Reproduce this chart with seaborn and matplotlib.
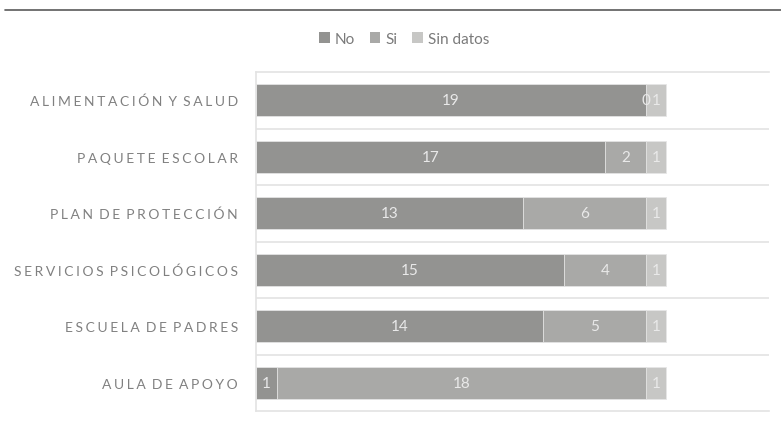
import matplotlib
matplotlib.use("Agg")
import matplotlib.pyplot as plt
from matplotlib.lines import Line2D
from matplotlib.patches import Patch
import numpy as np
import pandas as pd
import seaborn as sns

categories = [
    "ALIMENTACIÓN Y SALUD",
    "PAQUETE ESCOLAR",
    "PLAN DE PROTECCIÓN",
    "SERVICIOS PSICOLÓGICOS",
    "ESCUELA DE PADRES",
    "AULA DE APOYO",
]
no_vals = [19, 17, 13, 15, 14, 1]
si_vals = [0, 2, 6, 4, 5, 18]
sin_datos_vals = [1, 1, 1, 1, 1, 1]
series_names = ["No", "Si", "Sin datos"]
colors = ["#939391", "#a9a9a7", "#c7c7c5"]

sns.set_theme(style="white")
plt.rcParams["font.family"] = ["Lato", "DejaVu Sans"]

df = pd.DataFrame({"cat": categories, "No": no_vals, "Si": si_vals, "Sin datos": sin_datos_vals})
df["c1"] = df["No"]
df["c2"] = df["No"] + df["Si"]
df["c3"] = df["No"] + df["Si"] + df["Sin datos"]

fig = plt.figure(figsize=(7.81, 4.27), dpi=100)
ax = fig.add_axes([256 / 781, 1 - 412 / 427, (769 - 256) / 781, (412 - 73) / 427])

# stacked bars: draw cumulative totals back to front
for col, color in zip(["c3", "c2", "c1"], colors[::-1]):
    sns.barplot(data=df, x=col, y="cat", order=categories, color=color,
                width=0.57, saturation=1, edgecolor="#e6e6e6", linewidth=0.6, ax=ax)

# value labels centred on each segment
for i, cat in enumerate(categories):
    left = 0
    for name in series_names:
        v = df.loc[i, name]
        ax.text(left + v / 2, i, str(v), ha="center", va="center",
                color="#e9e9e9", fontsize=11)
        left += v

ax.set_xlim(0, 25)
ax.set_ylim(len(categories) - 0.5, -0.5)
ax.set_xlabel("")
ax.set_ylabel("")
ax.set_xticks([])

# category separators
for b in np.arange(0.5, len(categories) - 0.5, 1):
    ax.axhline(b, color="#e3e3e3", lw=1.2, zorder=0)
for s in ["top", "bottom", "left"]:
    ax.spines[s].set_color("#e3e3e3")
    ax.spines[s].set_linewidth(1.2)
ax.spines["right"].set_visible(False)

def spaced(text):
    # widen tracking between letters of each label
    return "\u2009\u200a".join(text).replace("\u2009\u200a \u2009\u200a", "\u2009\u200a ")

ax.set_yticks(range(len(categories)))
ax.set_yticklabels([spaced(c) for c in categories], fontsize=10, color="#808080")
ax.tick_params(axis="y", length=0, pad=13)

# legend
handles = [Patch(facecolor=c, edgecolor="none") for c in colors]
fig.legend(handles, series_names, loc="center", bbox_to_anchor=(404 / 781, 1 - 40 / 427),
           ncol=3, frameon=False, fontsize=11, labelcolor="#7a7a7a",
           handlelength=0.7, handleheight=0.7, handletextpad=0.3, columnspacing=1.0)

# top rule
fig.add_artist(Line2D([5 / 781, 1], [1 - 11 / 427] * 2, color="#5a5a5a", lw=1.2))

fig.savefig("out.png", dpi=100)
